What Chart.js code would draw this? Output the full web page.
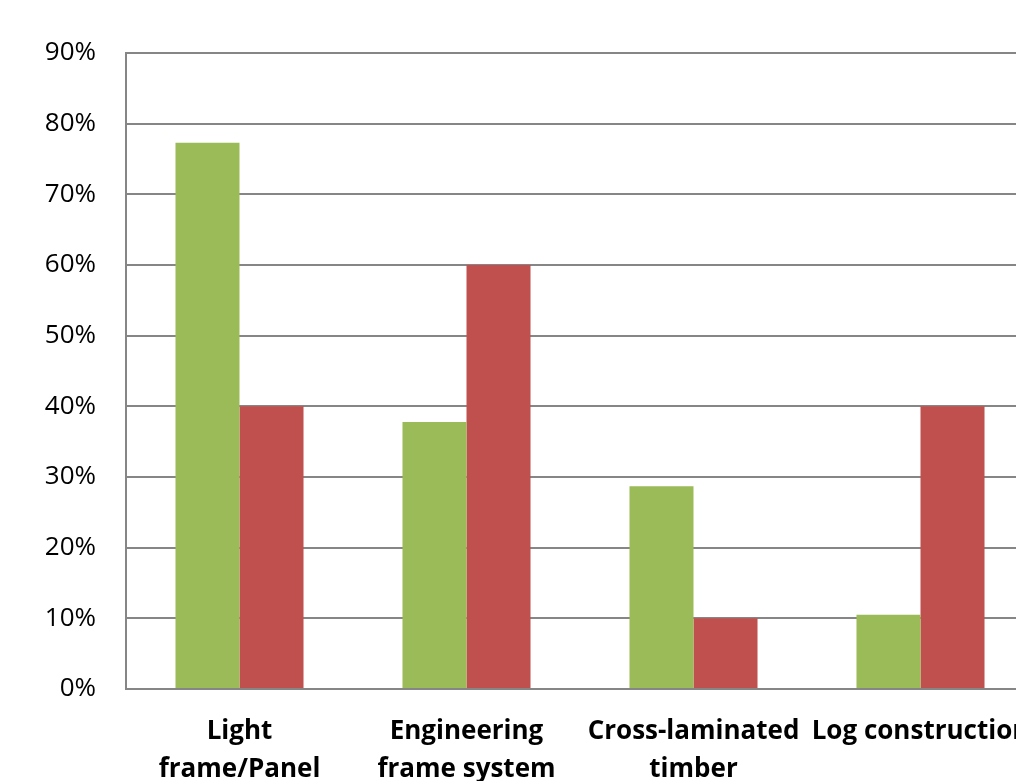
<!DOCTYPE html>
<html>
<head>
<meta charset="utf-8">
<script src="https://cdn.jsdelivr.net/npm/chart.js@4/dist/chart.umd.min.js"></script>
<style>
    html, body { margin: 0; padding: 0; background: #fff; overflow: hidden; }
    #wrap { width: 1016px; height: 781px; overflow: hidden; position: relative; }
    #chart { position: absolute; left: 0; top: 0; }
</style>
</head>
<body>
<div id="wrap">
    <canvas id="chart" width="1034" height="781"></canvas>
</div>
<script>
// ========================
// DATA
// ========================
const categories = [
    ['Light', 'frame/Panel'],
    ['Engineering', 'frame system'],
    ['Cross-laminated', 'timber'],
    'Log construction'
];
const greenValues = [77.3, 37.8, 28.7, 10.5];
const redValues = [40, 60, 10, 40];
const yTicks = [0, 10, 20, 30, 40, 50, 60, 70, 80, 90];

const fontFamily = "'Open Sans', 'Liberation Sans', sans-serif";

// ========================
// CHART
// ========================
new Chart(document.getElementById('chart'), {
    type: 'bar',
    data: {
        labels: categories,
        datasets: [{
            label: 'A',
            data: greenValues,
            backgroundColor: '#9bbb59',
            borderWidth: 0,
            categoryPercentage: 0.564,
            barPercentage: 1
        }, {
            label: 'B',
            data: redValues,
            backgroundColor: '#c0504d',
            borderWidth: 0,
            categoryPercentage: 0.564,
            barPercentage: 1
        }]
    },
    options: {
        responsive: false,
        animation: false,
        layout: { padding: { top: 53, right: 0, bottom: 0, left: 0 } },
        plugins: {
            legend: { display: false },
            tooltip: { enabled: false }
        },
        scales: {
            x: {
                grid: { display: false, drawTicks: false },
                border: { display: true, color: '#868686', width: 2 },
                ticks: {
                    color: '#000',
                    maxRotation: 0,
                    autoSkip: false,
                    padding: 24,
                    font: { family: fontFamily, size: 26, weight: 'bold', lineHeight: 1.45 }
                },
                afterFit: function(scale) {
                    scale.height = 92;
                    scale.paddingLeft = 0;
                    scale.paddingRight = 0;
                }
            },
            y: {
                min: 0,
                max: 90,
                afterBuildTicks: function(scale) {
                    scale.ticks = yTicks.map(function(v) { return { value: v }; });
                },
                grid: { color: '#868686', lineWidth: 2, drawTicks: false },
                border: { display: true, color: '#868686', width: 2 },
                ticks: {
                    color: '#000',
                    padding: 30,
                    font: { family: fontFamily, size: 26 },
                    callback: function(v) { return v + '%'; }
                },
                afterFit: function(scale) {
                    scale.width = 126;
                    scale.paddingTop = 0;
                    scale.paddingBottom = 0;
                }
            }
        }
    }
});
</script>
</body>
</html>
